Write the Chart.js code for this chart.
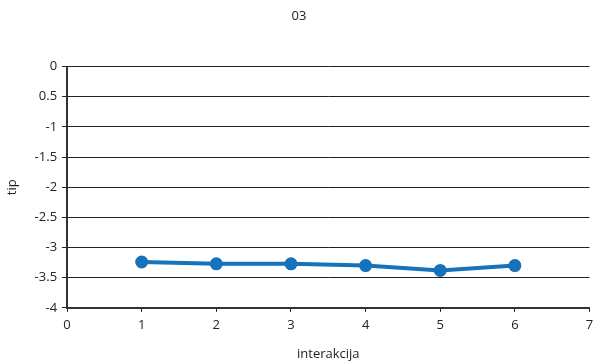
<!DOCTYPE html>
<html>
<head>
<meta charset="utf-8">
<script src="https://cdn.jsdelivr.net/npm/chart.js@4"></script>
<style>
  html, body { margin: 0; padding: 0; background: #fff; }
  #wrap { width: 598px; height: 362px; position: relative; }
</style>
</head>
<body>
<div id="wrap"><canvas id="graph"></canvas></div>
<script>
var interactions = [1, 2, 3, 4, 5, 6];
var tipValues = [-3.24, -3.27, -3.27, -3.30, -3.38, -3.30];
var yTickLabels = ['0', '0.5', '-1', '-1.5', '-2', '-2.5', '-3', '-3.5', '-4'];

document.addEventListener('DOMContentLoaded', () => {
  var graph = document.getElementById('graph').getContext('2d');
  var points = interactions.map((x, i) => ({ x: x, y: tipValues[i] }));
  var font = { family: 'Open Sans', size: 13, weight: 'normal' };

  new Chart(graph, {
    type: 'line',
    data: {
      datasets: [{
        label: '03',
        data: points,
        borderColor: 'rgb(22, 114, 186)',
        backgroundColor: 'rgb(22, 114, 186)',
        borderWidth: 4,
        pointRadius: 4.5,
        pointHoverRadius: 4.5,
        tension: 0
      }]
    },
    options: {
      responsive: true,
      maintainAspectRatio: false,
      animation: false,
      layout: { padding: { left: 4, right: 4, top: 0, bottom: 0 } },
      scales: {
        x: {
          type: 'linear',
          min: 0,
          max: 7,
          // let the last label "7" sit at the edge like the original
          afterFit: (scale) => { scale.paddingRight = 0; },
          ticks: { stepSize: 1, color: '#222', font: font, padding: 6 },
          grid: { drawOnChartArea: false, drawTicks: true, tickLength: 4, color: '#222' },
          border: { color: '#333', width: 2 },
          title: { display: true, text: 'interakcija', color: '#222', font: font, padding: { top: 7, bottom: 0 } }
        },
        y: {
          min: -4,
          max: 0,
          ticks: {
            stepSize: 0.5,
            color: '#222',
            font: font,
            padding: 5,
            callback: (v, i, ticks) => yTickLabels[ticks.length - 1 - i]
          },
          grid: { color: '#222', lineWidth: 1, tickLength: 5 },
          border: { color: '#333', width: 2 },
          title: { display: true, text: 'tip', color: '#222', font: font, padding: { top: 0, bottom: 10 } }
        }
      },
      plugins: {
        legend: { display: false },
        tooltip: { enabled: false },
        title: {
          display: true,
          text: '03',
          color: '#222',
          font: font,
          padding: { top: 8, bottom: 43 }
        }
      }
    }
  });
});
</script>
</body>
</html>
